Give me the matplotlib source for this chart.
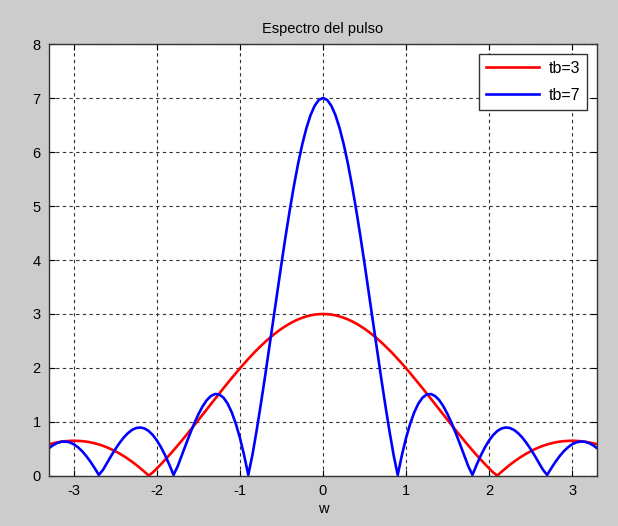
import numpy as np
import matplotlib
matplotlib.use("Agg")
import matplotlib.pyplot as plt

plt.rcParams['font.family'] = ['Liberation Sans', 'DejaVu Sans']
plt.rcParams['axes.unicode_minus'] = False

# Frecuencia w (rad) y modulo del espectro
w = [-3.30, -3.25, -3.20, -3.15, -3.10, -3.05, -3.00, -2.95, -2.90, -2.85,
     -2.80, -2.75, -2.70, -2.65, -2.60, -2.55, -2.50, -2.45, -2.40, -2.35,
     -2.30, -2.25, -2.20, -2.15, -2.10, -2.05, -2.00, -1.95, -1.90, -1.85,
     -1.80, -1.75, -1.70, -1.65, -1.60, -1.55, -1.50, -1.45, -1.40, -1.35,
     -1.30, -1.25, -1.20, -1.15, -1.10, -1.05, -1.00, -0.95, -0.90, -0.85,
     -0.80, -0.75, -0.70, -0.65, -0.60, -0.55, -0.50, -0.45, -0.40, -0.35,
     -0.30, -0.25, -0.20, -0.15, -0.10, -0.05, 0.00,
     0.05, 0.10, 0.15, 0.20, 0.25, 0.30, 0.35, 0.40, 0.45, 0.50,
     0.55, 0.60, 0.65, 0.70, 0.75, 0.80, 0.85, 0.90, 0.95, 1.00,
     1.05, 1.10, 1.15, 1.20, 1.25, 1.30, 1.35, 1.40, 1.45, 1.50,
     1.55, 1.60, 1.65, 1.70, 1.75, 1.80, 1.85, 1.90, 1.95, 2.00,
     2.05, 2.10, 2.15, 2.20, 2.25, 2.30, 2.35, 2.40, 2.45, 2.50,
     2.55, 2.60, 2.65, 2.70, 2.75, 2.80, 2.85, 2.90, 2.95, 3.00,
     3.05, 3.10, 3.15, 3.20, 3.25, 3.30]

# tb = 3
espectro_tb3 = [0.589, 0.607, 0.623, 0.635, 0.644, 0.650, 0.652, 0.650, 0.645, 0.636,
                0.623, 0.605, 0.584, 0.559, 0.529, 0.495, 0.457, 0.415, 0.369, 0.318,
                0.264, 0.206, 0.143, 0.078, 0.008, 0.065, 0.141, 0.220, 0.303, 0.387,
                0.475, 0.564, 0.656, 0.750, 0.844, 0.940, 1.037, 1.135, 1.233, 1.331,
                1.429, 1.527, 1.623, 1.719, 1.812, 1.905, 1.995, 2.083, 2.168, 2.251,
                2.330, 2.406, 2.478, 2.547, 2.611, 2.671, 2.727, 2.777, 2.823, 2.864,
                2.900, 2.930, 2.955, 2.975, 2.989, 2.997, 3.000,
                2.997, 2.989, 2.975, 2.955, 2.930, 2.900, 2.864, 2.823, 2.777, 2.727,
                2.671, 2.611, 2.547, 2.478, 2.406, 2.330, 2.251, 2.168, 2.083, 1.995,
                1.905, 1.812, 1.719, 1.623, 1.527, 1.429, 1.331, 1.233, 1.135, 1.037,
                0.940, 0.844, 0.750, 0.656, 0.564, 0.475, 0.387, 0.303, 0.220, 0.141,
                0.065, 0.008, 0.078, 0.143, 0.206, 0.264, 0.318, 0.369, 0.415, 0.457,
                0.495, 0.529, 0.559, 0.584, 0.605, 0.623, 0.636, 0.645, 0.650, 0.652,
                0.650, 0.644, 0.635, 0.623, 0.607, 0.589]

# tb = 7
espectro_tb7 = [0.515, 0.572, 0.612, 0.635, 0.638, 0.622, 0.586, 0.531, 0.457, 0.367,
                0.262, 0.145, 0.019, 0.113, 0.245, 0.376, 0.500, 0.613, 0.712, 0.793,
                0.853, 0.889, 0.898, 0.880, 0.834, 0.759, 0.657, 0.529, 0.378, 0.206,
                0.019, 0.180, 0.385, 0.590, 0.789, 0.976, 1.145, 1.290, 1.404, 1.481,
                1.518, 1.510, 1.453, 1.344, 1.183, 0.968, 0.702, 0.384, 0.019, 0.390,
                0.837, 1.317, 1.822, 2.345, 2.877, 3.411, 3.936, 4.444, 4.927, 5.375,
                5.783, 6.140, 6.442, 6.683, 6.858, 6.965, 7.000,
                6.965, 6.858, 6.683, 6.442, 6.140, 5.783, 5.375, 4.927, 4.444, 3.936,
                3.411, 2.877, 2.345, 1.822, 1.317, 0.837, 0.390, 0.019, 0.384, 0.702,
                0.968, 1.183, 1.344, 1.453, 1.510, 1.518, 1.481, 1.404, 1.290, 1.145,
                0.976, 0.789, 0.590, 0.385, 0.180, 0.019, 0.206, 0.378, 0.529, 0.657,
                0.759, 0.834, 0.880, 0.898, 0.889, 0.853, 0.793, 0.712, 0.613, 0.500,
                0.376, 0.245, 0.113, 0.019, 0.145, 0.262, 0.367, 0.457, 0.531, 0.586,
                0.622, 0.638, 0.635, 0.612, 0.572, 0.515]

fig = plt.figure(figsize=(6.18, 5.26), dpi=100, facecolor='#cccccc')
ax = fig.add_axes([0.0793, 0.0951, 0.8867, 0.8212])
ax.set_facecolor('white')

ax.plot(w, espectro_tb3, color='#ff0000', linewidth=1.9, label='tb=3')
ax.plot(w, espectro_tb7, color='#0000ff', linewidth=1.9, label='tb=7')

ax.set_xlim(min(w), max(w))
ax.set_ylim(0, 8)
ax.set_xticks([-3, -2, -1, 0, 1, 2, 3])
ax.set_yticks(range(0, 9))
ax.grid(True, color='#333333', linestyle=(0, (3, 3)), linewidth=0.8)
ax.tick_params(direction='in', top=True, right=True, length=4, labelsize=10.5,
               colors='black', pad=6)
for s in ax.spines.values():
    s.set_color('#333333')
    s.set_linewidth(1.0)

ax.set_title('Espectro del pulso', fontsize=10.5, pad=8)
ax.set_xlabel('w', fontsize=10.5, labelpad=3)

leg = ax.legend(loc='upper right', fontsize=11.5, fancybox=False, framealpha=1,
                edgecolor='#333333', handlelength=3.3, borderaxespad=0.6,
                handletextpad=0.6, labelspacing=0.75, borderpad=0.45)
leg.get_frame().set_linewidth(1.0)

fig.savefig('out.png', dpi=100, facecolor=fig.get_facecolor())
